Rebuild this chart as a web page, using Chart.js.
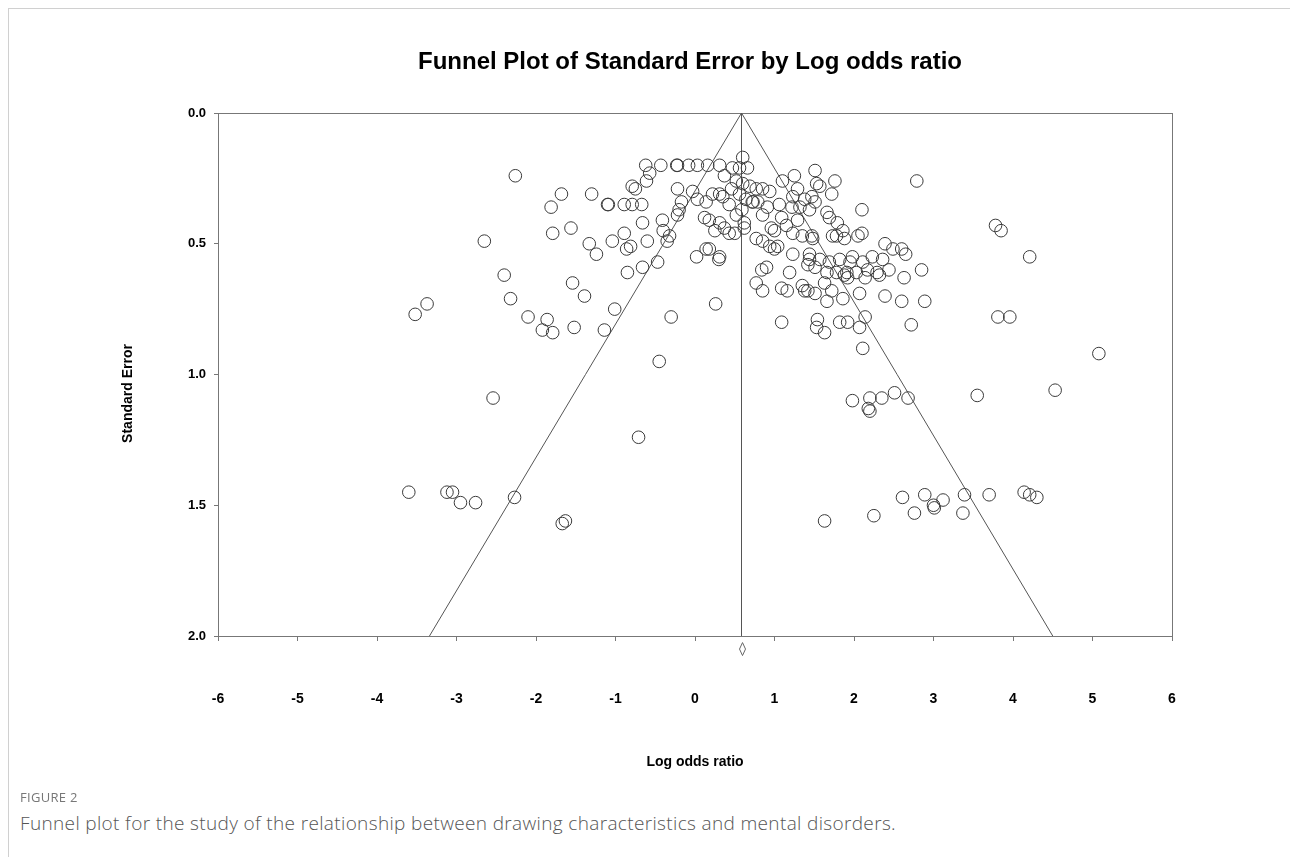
<!DOCTYPE html>
<html><head><meta charset="utf-8">
<script src="https://cdn.jsdelivr.net/npm/chart.js@4.4.1/dist/chart.umd.min.js"></script>
<style>
html,body{margin:0;padding:0;background:#fff;}
body{width:1290px;height:857px;position:relative;overflow:hidden;}
#frame{position:absolute;left:8px;top:8px;right:0;bottom:0;border-top:1px solid #d0d0d0;border-left:1px solid #d0d0d0;}
#wrap{position:absolute;left:0;top:0;width:1290px;height:790px;}
#figlabel{position:absolute;left:20px;top:788px;font:13px "Open Sans",sans-serif;color:#777;letter-spacing:0.3px;}
#caption{position:absolute;left:20px;top:810px;font:300 19px "Open Sans",sans-serif;color:#555;white-space:nowrap;letter-spacing:0.35px;}
</style></head>
<body>
<div id="frame"></div>
<div id="wrap"><canvas id="c" width="1290" height="790"></canvas></div>
<div id="figlabel">FIGURE 2</div>
<div id="caption">Funnel plot for the study of the relationship between drawing characteristics and mental disorders.</div>
<script>
const logOddsRatio = [
-3.52,-3.37,-3.60,-3.12,-3.05,-2.95,-2.76,-2.27,-2.54,-2.65,
-2.26,-2.40,-2.32,-2.10,-1.86,-1.92,-1.79,-1.79,-1.81,-1.68,
-1.56,-1.54,-1.52,-1.39,-1.30,-1.33,-1.24,-1.14,-1.10,-1.09,
-1.01,-1.04,-0.89,-0.89,-0.79,-0.67,-0.85,-0.86,-0.81,-0.79,
-0.75,-0.61,-0.57,-0.62,-0.43,-0.66,-0.60,-0.66,-0.47,-0.41,
-0.40,-0.32,-0.35,-0.30,-0.45,-0.71,-0.23,-0.22,-0.22,-0.17,
-0.20,-0.22,-0.08,0.03,-0.03,0.03,0.02,0.14,0.18,0.12,
0.18,0.14,0.22,0.16,0.31,0.47,0.31,0.31,0.25,0.37,
0.43,0.31,0.30,0.26,0.37,0.60,0.66,0.56,0.52,0.60,
0.77,0.85,0.94,1.10,1.25,1.51,1.76,1.53,1.57,1.29,
1.72,2.10,1.23,1.38,1.47,1.51,0.72,0.73,0.79,1.06,
0.91,1.22,1.32,1.44,1.66,1.69,1.79,1.86,1.29,1.15,
1.09,0.96,1.00,0.77,0.85,0.62,0.62,0.50,1.23,1.35,
1.47,1.48,1.73,1.78,1.88,2.05,2.10,2.39,1.04,1.00,
1.23,1.44,1.44,1.57,1.69,1.82,1.95,1.98,2.11,2.23,
2.36,1.42,1.51,0.90,0.84,1.19,1.66,1.78,1.91,2.03,
2.17,2.29,0.77,0.85,1.09,1.16,1.35,1.38,1.42,1.51,
1.66,1.63,1.72,1.86,1.88,1.92,2.07,2.14,2.32,2.39,
1.09,1.54,1.53,1.63,1.82,1.92,2.07,2.14,2.11,2.44,
2.49,2.60,2.63,0.56,2.60,2.65,2.72,2.79,2.85,2.89,
1.98,2.20,2.18,2.20,2.35,2.51,2.68,3.55,4.53,5.08,
3.81,3.96,3.78,3.85,4.21,1.63,2.25,2.61,2.76,2.89,
3.00,3.01,3.12,3.37,3.39,3.70,4.14,4.21,4.30,-1.67,
-1.63,0.64,0.69,0.46,0.52,0.59,0.35,0.43,0.85,0.94
];
const standardError = [
0.77,0.73,1.45,1.45,1.45,1.49,1.49,1.47,1.09,0.49,
0.24,0.62,0.71,0.78,0.79,0.83,0.84,0.46,0.36,0.31,
0.44,0.65,0.82,0.70,0.31,0.50,0.54,0.83,0.35,0.35,
0.75,0.49,0.46,0.35,0.35,0.35,0.61,0.52,0.51,0.28,
0.29,0.26,0.23,0.20,0.20,0.42,0.49,0.59,0.57,0.41,
0.45,0.47,0.49,0.78,0.95,1.24,0.20,0.20,0.29,0.34,
0.37,0.39,0.20,0.20,0.30,0.33,0.55,0.52,0.52,0.40,
0.41,0.34,0.31,0.20,0.20,0.21,0.31,0.42,0.45,0.44,
0.46,0.55,0.56,0.73,0.24,0.17,0.21,0.21,0.26,0.27,
0.29,0.29,0.30,0.26,0.24,0.22,0.26,0.27,0.28,0.29,
0.31,0.37,0.32,0.33,0.32,0.34,0.34,0.34,0.34,0.35,
0.36,0.36,0.36,0.37,0.38,0.40,0.42,0.45,0.41,0.43,
0.40,0.44,0.45,0.48,0.49,0.42,0.44,0.46,0.46,0.47,
0.47,0.48,0.47,0.47,0.48,0.47,0.46,0.50,0.51,0.52,
0.54,0.54,0.56,0.56,0.57,0.56,0.57,0.55,0.57,0.55,
0.56,0.58,0.59,0.59,0.60,0.61,0.61,0.61,0.61,0.61,
0.60,0.61,0.65,0.68,0.67,0.68,0.66,0.68,0.68,0.69,
0.72,0.65,0.68,0.71,0.62,0.63,0.69,0.63,0.62,0.70,
0.80,0.79,0.82,0.84,0.80,0.80,0.82,0.78,0.90,0.60,
0.52,0.52,0.63,0.31,0.72,0.54,0.81,0.26,0.60,0.72,
1.10,1.09,1.13,1.14,1.09,1.07,1.09,1.08,1.06,0.92,
0.78,0.78,0.43,0.45,0.55,1.56,1.54,1.47,1.53,1.46,
1.50,1.51,1.48,1.53,1.46,1.46,1.45,1.46,1.47,1.57,
1.56,0.33,0.28,0.29,0.39,0.37,0.32,0.35,0.39,0.51
];
// funnel (pseudo 95% limits) and summary estimate
const funnelX = [-3.34, 0.585, 4.50];
const funnelY = [2.0, 0.0, 2.0];
const centerX = [0.585, 0.585];
const centerY = [0.0, 2.0];
const summaryX = [0.585];
const summaryY = [2.05];
const xTickValues = [-6,-5,-4,-3,-2,-1,0,1,2,3,4,5,6];
const yTickValues = [0.0,0.5,1.0,1.5,2.0];

const pts = (xs, ys) => xs.map((x, i) => ({x: x, y: ys[i]}));

const FONT = '"Liberation Sans", Arial, sans-serif';

const framePlugin = {
  id: 'frame',
  beforeDatasetsDraw(chart) {
    const a = chart.chartArea, c = chart.ctx;
    c.save();
    c.strokeStyle = '#777'; c.lineWidth = 1;
    c.strokeRect(Math.round(a.left) + 0.5, Math.round(a.top) + 0.5, Math.round(a.right - a.left), Math.round(a.bottom - a.top));
    c.restore();
  },
  afterDatasetsDraw(chart) {
    const c = chart.ctx, sx = chart.scales.x, sy = chart.scales.y;
    // summary diamond (below the axis)
    const px = Math.round(sx.getPixelForValue(summaryX[0])) + 0.5;
    const py = sy.getPixelForValue(summaryY[0]);
    c.save();
    c.strokeStyle = '#666'; c.lineWidth = 1;
    c.beginPath();
    c.moveTo(px, py - 6.5); c.lineTo(px + 3, py); c.lineTo(px, py + 6.5); c.lineTo(px - 3, py); c.closePath();
    c.stroke();
    // y axis title
    c.translate(128, (chart.chartArea.top + chart.chartArea.bottom) / 2 + 19);
    c.rotate(-Math.PI / 2);
    c.fillStyle = '#000';
    c.font = 'bold 14px ' + FONT;
    c.textAlign = 'center'; c.textBaseline = 'middle';
    c.fillText('Standard Error', 0, 0);
    c.restore();
  }
};

new Chart(document.getElementById('c'), {
  type: 'scatter',
  data: {
    datasets: [
      { label: 'Studies', data: pts(logOddsRatio, standardError), pointStyle: 'circle', pointRadius: 6.3,
        borderColor: '#3a3a3a', backgroundColor: 'rgba(0,0,0,0)', borderWidth: 1, pointHoverRadius: 6.3 },
      { label: 'Funnel', data: pts(funnelX, funnelY), showLine: true, pointRadius: 0,
        borderColor: '#555', borderWidth: 1, fill: false },
      { label: 'Center', data: pts(centerX, centerY), showLine: true, pointRadius: 0,
        borderColor: '#555', borderWidth: 1, fill: false }
    ]
  },
  options: {
    responsive: false, animation: false,
    layout: { padding: { left: 90, right: 0, top: 0, bottom: 0 } },
    plugins: {
      legend: { display: false }, tooltip: { enabled: false },
      title: { display: true, text: 'Funnel Plot of Standard Error by Log odds ratio', color: '#000',
        font: { family: FONT, size: 24, weight: 'bold' }, padding: { top: 47.6, bottom: 36.6 } }
    },
    scales: {
      x: {
        type: 'linear', position: 'bottom', min: -6, max: 6,
        afterBuildTicks(s) { s.ticks = xTickValues.map(v => ({value: v})); },
        ticks: { color: '#000', font: { family: FONT, size: 14, weight: 'bold' }, padding: 50, maxRotation: 0,
          callback: v => String(v) },
        grid: { display: true, drawOnChartArea: false, drawTicks: true, tickLength: 5, color: '#777' },
        border: { display: false },
        title: { display: true, text: 'Log odds ratio', color: '#000', font: { family: FONT, size: 14, weight: 'bold' },
          padding: { top: 0, bottom: 19 } },
        afterFit(s) { s.height = 154; }
      },
      y: {
        type: 'linear', position: 'left', min: 0, max: 2, reverse: true,
        afterBuildTicks(s) { s.ticks = yTickValues.map(v => ({value: v})); },
        ticks: { color: '#000', font: { family: FONT, size: 13, weight: 'bold' }, padding: 8,
          callback: v => Number(v).toFixed(1) },
        grid: { display: true, drawOnChartArea: false, drawTicks: true, tickLength: 4, color: '#777' },
        border: { display: false },
        title: { display: false },
        afterFit(s) { s.width = 128; }
      },
      y2: {
        type: 'linear', position: 'right', display: true,
        ticks: { display: false }, grid: { display: false }, border: { display: false },
        afterFit(s) { s.width = 118; }
      }
    }
  },
  plugins: [framePlugin]
});
</script>
</body></html>
